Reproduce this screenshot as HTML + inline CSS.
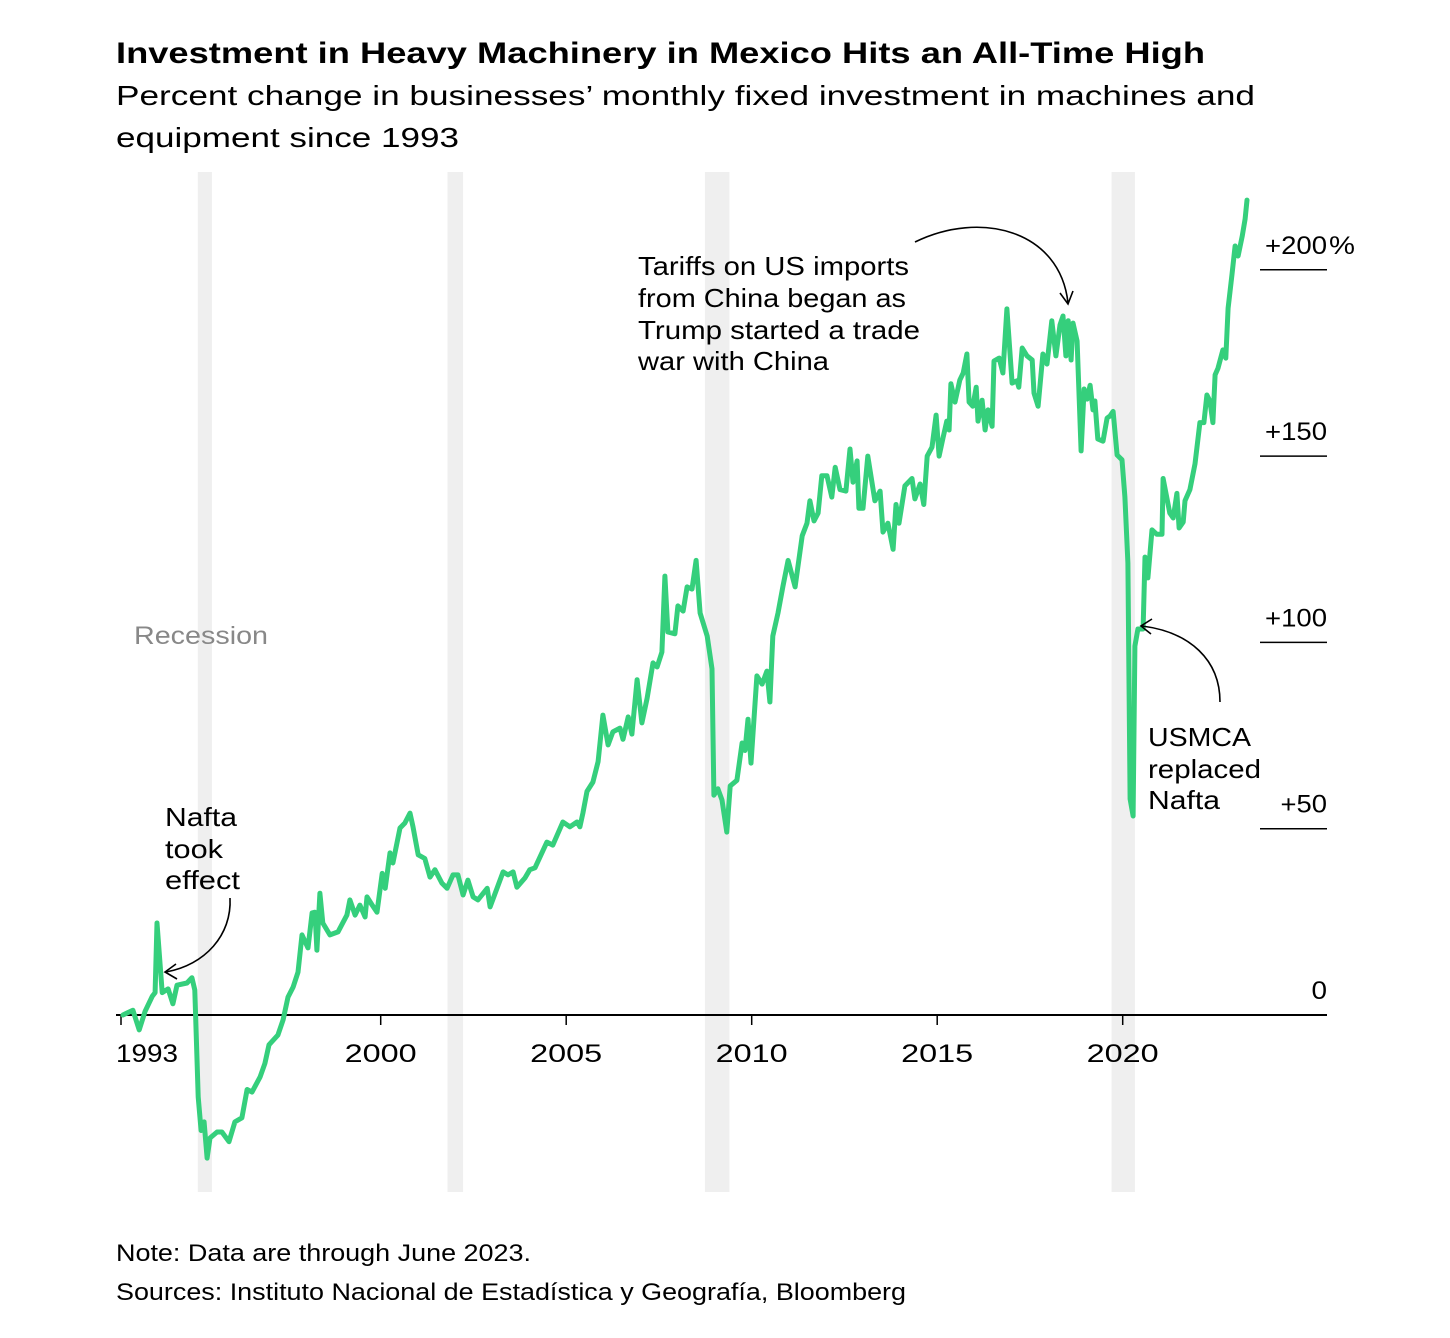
<!DOCTYPE html>
<html><head><meta charset="utf-8">
<style>
body{margin:0;background:#fff;}
svg{display:block;font-family:"Liberation Sans",Arial,sans-serif;}
</style></head>
<body>
<svg id="chart" width="1450" height="1338" viewBox="0 0 1450 1338" xmlns="http://www.w3.org/2000/svg">
<text x="116" y="63" font-size="30" font-weight="bold" fill="#000" textLength="1089" lengthAdjust="spacingAndGlyphs">Investment in Heavy Machinery in Mexico Hits an All-Time High</text>
<text x="116" y="105" font-size="28" fill="#000" textLength="1139" lengthAdjust="spacingAndGlyphs">Percent change in businesses’ monthly fixed investment in machines and</text>
<text x="116" y="147" font-size="28" fill="#000" textLength="343" lengthAdjust="spacingAndGlyphs">equipment since 1993</text>
<g id="bands"></g>
<g id="yaxis"></g>
<g id="xaxis"></g>
<text x="134" y="644" font-size="25" fill="#888" textLength="134" lengthAdjust="spacingAndGlyphs">Recession</text>
<path id="line" fill="none" stroke="#35cf7c" stroke-width="5" stroke-linejoin="round" stroke-linecap="round"/>
<g font-size="26" fill="#000">
<text x="638" y="275" textLength="271" lengthAdjust="spacingAndGlyphs">Tariffs on US imports</text>
<text x="638" y="307" textLength="268" lengthAdjust="spacingAndGlyphs">from China began as</text>
<text x="638" y="339" textLength="282" lengthAdjust="spacingAndGlyphs">Trump started a trade</text>
<text x="638" y="370" textLength="191" lengthAdjust="spacingAndGlyphs">war with China</text>
<path d="M915,242 C980,210 1060,230 1068,303" fill="none" stroke="#000" stroke-width="1.6"/>
<path d="M1060,293 L1068,304 L1073,291" fill="none" stroke="#000" stroke-width="1.6"/>
</g>
<g font-size="26" fill="#000">
<text x="165" y="826" textLength="72" lengthAdjust="spacingAndGlyphs">Nafta</text>
<text x="165" y="858" textLength="58" lengthAdjust="spacingAndGlyphs">took</text>
<text x="165" y="889" textLength="75" lengthAdjust="spacingAndGlyphs">effect</text>
<path d="M230,898 C232,935 205,965 166,972" fill="none" stroke="#000" stroke-width="1.6"/>
<path d="M176,964 L165,972 L177,979" fill="none" stroke="#000" stroke-width="1.6"/>
</g>
<g font-size="26" fill="#000">
<text x="1148" y="746" textLength="103" lengthAdjust="spacingAndGlyphs">USMCA</text>
<text x="1148" y="778" textLength="113" lengthAdjust="spacingAndGlyphs">replaced</text>
<text x="1148" y="809" textLength="72" lengthAdjust="spacingAndGlyphs">Nafta</text>
<path d="M1220,702 C1220,660 1190,632 1142,626" fill="none" stroke="#000" stroke-width="1.6"/>
<path d="M1152,619 L1141,626 L1151,634" fill="none" stroke="#000" stroke-width="1.6"/>
</g>
<text x="116" y="1261" font-size="24" fill="#000" textLength="415" lengthAdjust="spacingAndGlyphs">Note: Data are through June 2023.</text>
<text x="116" y="1300" font-size="24" fill="#000" textLength="790" lengthAdjust="spacingAndGlyphs">Sources: Instituto Nacional de Estadística y Geografía, Bloomberg</text>
</svg>
<script>
const years=[1993.05,1993.32,1993.49,1993.65,1993.84,1993.92,1993.97,1994.11,1994.27,1994.40,1994.51,1994.78,1994.91,1994.99,1995.08,1995.16,1995.24,1995.32,1995.40,1995.59,1995.72,1995.91,1996.07,1996.26,1996.40,1996.53,1996.75,1996.88,1996.99,1997.23,1997.37,1997.50,1997.64,1997.77,1997.88,1998.04,1998.15,1998.23,1998.28,1998.36,1998.44,1998.63,1998.85,1999.09,1999.17,1999.31,1999.44,1999.58,1999.63,1999.77,1999.90,2000.04,2000.12,2000.25,2000.33,2000.52,2000.65,2000.79,2000.87,2001.01,2001.19,2001.33,2001.46,2001.65,2001.79,2001.95,2002.08,2002.22,2002.35,2002.49,2002.62,2002.87,2002.95,2003.30,2003.43,2003.57,2003.67,2003.89,2004.02,2004.16,2004.48,2004.64,2004.91,2005.10,2005.29,2005.37,2005.45,2005.56,2005.72,2005.86,2005.99,2006.13,2006.26,2006.45,2006.53,2006.67,2006.77,2006.91,2007.04,2007.18,2007.34,2007.45,2007.58,2007.66,2007.74,2007.93,2008.01,2008.15,2008.26,2008.39,2008.50,2008.61,2008.80,2008.93,2008.98,2009.09,2009.20,2009.33,2009.42,2009.60,2009.74,2009.82,2009.90,2009.98,2010.14,2010.28,2010.41,2010.49,2010.57,2010.71,2010.84,2010.98,2011.17,2011.36,2011.49,2011.57,2011.68,2011.79,2011.89,2012.03,2012.16,2012.25,2012.38,2012.54,2012.65,2012.73,2012.84,2012.89,2013.00,2013.13,2013.32,2013.46,2013.54,2013.67,2013.81,2013.89,2013.97,2014.13,2014.32,2014.40,2014.54,2014.64,2014.73,2014.86,2014.97,2015.05,2015.16,2015.26,2015.32,2015.37,2015.48,2015.61,2015.70,2015.80,2015.86,2015.96,2016.05,2016.10,2016.21,2016.29,2016.37,2016.48,2016.53,2016.67,2016.77,2016.88,2017.02,2017.15,2017.20,2017.29,2017.42,2017.56,2017.61,2017.72,2017.85,2017.96,2018.09,2018.20,2018.31,2018.39,2018.47,2018.53,2018.61,2018.66,2018.77,2018.88,2018.96,2019.04,2019.12,2019.20,2019.25,2019.33,2019.47,2019.58,2019.66,2019.74,2019.85,2019.98,2020.06,2020.14,2020.20,2020.28,2020.33,2020.41,2020.55,2020.60,2020.68,2020.79,2020.92,2021.06,2021.09,2021.27,2021.36,2021.46,2021.52,2021.63,2021.68,2021.81,2021.95,2022.08,2022.19,2022.27,2022.35,2022.43,2022.49,2022.57,2022.70,2022.78,2022.84,2022.95,2023.03,2023.11,2023.22,2023.30,2023.35];
const values=[0,1.3,-4,1,5,6,24.7,6,7,3,8,8.6,10,6.7,-22,-31,-28.7,-38.4,-33,-31.4,-31.4,-34,-28.7,-27.6,-20,-20.7,-16.6,-13,-8,-5.4,-1.3,4.8,7.5,11.5,21.5,18,27.4,27.6,17.4,32.7,24.7,21.5,22.3,26.8,30.9,26.8,29.5,26.3,31.7,29.5,27.6,38,34,43.5,40.8,50.2,51.5,54.2,50.5,43,42,37,39,35.4,34,37.6,37.6,32.2,36.2,31.7,30.9,34,29,38.4,37.6,38.4,34.3,36.8,39,39.5,46.4,45.6,51.8,50.5,51.8,50.5,54.2,60,62.5,68,80.5,72.5,76,77,74,80,75.4,90,78.4,85,94.5,93.4,97.4,117.8,102.8,102.3,109.8,108.4,114.9,114.3,122,107.9,101.7,92.9,59,60.7,57.7,49.1,61.5,63,73,71,79.4,67.6,91,88.8,92.3,84,101.7,107.9,115,122,114.9,128.6,132,138,132.6,134.7,144.7,144.7,139,147,141,140.6,151.9,143,148.7,136,136,150,138,140.6,129.6,132,125,137,132,142,144,138.5,142.5,137,150,152.4,161,150,155,159.4,157,169.4,164.5,170.4,172.3,177.4,164.5,163.4,168.5,159.4,165,157,162.4,158,175.5,176.3,172.3,189.5,169.6,170.2,168.5,179,176.9,175.8,166.9,163.4,177.4,174.7,186.3,176.9,185.2,187.6,176.9,186.3,175.8,185.7,180.9,151.4,168,165.3,169,162.4,164.8,154.6,154,160.2,160.8,162,150.3,149,139,121.3,58,53.4,99,103.6,103.6,122.9,117.3,130.2,129,129,144,134.7,133.4,140,130.7,132.3,138,141,147.9,159,159,166.4,164.8,159,171.8,173.6,178.5,176.3,189.7,199,206.4,203.7,209,213.6,218.7];
const recStart=[1995.07,2001.80,2008.74,2019.70];
const recEnd=[1995.45,2002.22,2009.40,2020.33];
const yTicks=[0,50,100,150,200];
const yTickLabels=["0","+50","+100","+150","+200"];
const xTicks=[1993,2000,2005,2010,2015,2020];
const xTickLabels=["1993","2000","2005","2010","2015","2020"];

const NS="http://www.w3.org/2000/svg";
function xS(yr){return 121+(yr-1993)*37.1;}
function yS(v){return 1015-v*3.726;}
function mk(tag,attrs,parent){const e=document.createElementNS(NS,tag);for(const k in attrs)e.setAttribute(k,attrs[k]);parent.appendChild(e);return e;}

const bands=document.getElementById('bands');
recStart.forEach((s,i)=>{
  const r=mk('rect',{x:xS(s),y:172,width:xS(recEnd[i])-xS(s),height:1020,fill:'#efefef'},bands);
  
  
});
const ya=document.getElementById('yaxis');
yTicks.forEach((v,i)=>{
  const lab=yTickLabels[i];
  const t=mk('text',{x:1327,y:yS(v)-16,'text-anchor':'end','font-size':25,fill:'#000',textLength:lab.length*15.5,lengthAdjust:'spacingAndGlyphs'},ya);
  t.textContent=lab;
  
  
  if(i===yTicks.length-1){
    const p=mk('text',{x:1329,y:yS(v)-16,'font-size':25,fill:'#000',textLength:26,lengthAdjust:'spacingAndGlyphs'},ya);
    p.textContent='%';
    
    
  }
  if(v!==0){
    const l=mk('line',{x1:1260,x2:1327,y1:yS(v),y2:yS(v),stroke:'#000','stroke-width':1.5},ya);
    
    
  }
});
const xa=document.getElementById('xaxis');
const base=mk('line',{x1:116,x2:1327,y1:yS(0),y2:yS(0),stroke:'#000','stroke-width':2},xa);


xTicks.forEach((yr,i)=>{
  const tk=mk('line',{x1:xS(yr),x2:xS(yr),y1:yS(0),y2:yS(0)+10,stroke:'#000','stroke-width':1.5},xa);
  
  
  const t=mk('text',{x:i===0?xS(yr)-5:xS(yr),y:1062,'text-anchor':i===0?'start':'middle','font-size':25,fill:'#000',textLength:i===0?62:72,lengthAdjust:'spacingAndGlyphs'},xa);
  t.textContent=xTickLabels[i];
  
  
});
let d='';
years.forEach((yr,i)=>{d+=(i?'L':'M')+xS(yr).toFixed(1)+','+yS(values[i]).toFixed(1);});
document.getElementById('line').setAttribute('d',d);
</script>
</body></html>
